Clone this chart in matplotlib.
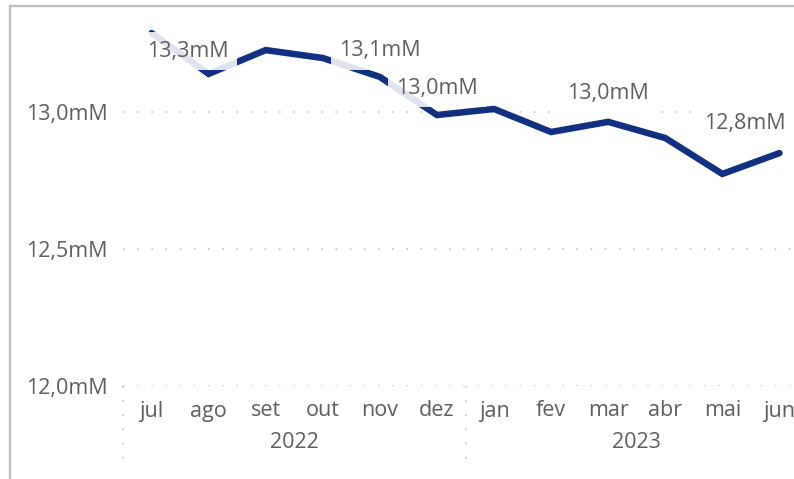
import matplotlib.pyplot as plt
from matplotlib.lines import Line2D
from matplotlib import transforms

plt.rcParams['font.family'] = ['Open Sans', 'DejaVu Sans']

months = ['jul', 'ago', 'set', 'out', 'nov', 'dez', 'jan', 'fev', 'mar', 'abr', 'mai', 'jun']
years = ['2022', '2023']
values = [13.288, 13.139, 13.226, 13.197, 13.128, 12.989, 13.011, 12.927, 12.964, 12.905, 12.774, 12.850]
labeled = [0, 4, 5, 8, 10]
yticks = [12.0, 12.5, 13.0]

# label offsets (pixels, x right / y up)
label_off = {0: (36, -18), 4: (0, 26), 5: (0, 27), 8: (0, 28), 10: (22, 50)}

line_color = '#12307f'
text_color = '#605e5c'
grid_color = '#c4c4c4'
fs = 15.5

W, H = 794, 479
fig = plt.figure(figsize=(W / 100, H / 100), dpi=100)
# axes: x from 123 to 808 px, y from 386 (12.0) to 20 px
ax = fig.add_axes([123 / W, (H - 386) / H, (808 - 123) / W, (386 - 20) / H])
ax.set_xlim(-0.5, 11.5)
ax.set_ylim(12.0, 13.0 + 92 / 274)
for s in ax.spines.values():
    s.set_visible(False)
ax.tick_params(length=0)
ax.set_xticks([])
ax.set_yticks(yticks)
ax.set_yticklabels([f'{v:.1f}'.replace('.', ',') + 'mM' for v in yticks],
                   fontsize=fs, color=text_color)
ax.tick_params(axis='y', pad=11)
for v in yticks:
    ax.axhline(v, color=grid_color, lw=1.2, ls=(0, (1, 7.5)), zorder=1, xmax=0.975)

x = list(range(len(months)))
ax.plot(x, values, color=line_color, lw=4.7, solid_capstyle='round',
        solid_joinstyle='miter', zorder=3)

for i in labeled:
    dx, dy = label_off[i]
    ax.annotate(f'{values[i]:.1f}'.replace('.', ',') + 'mM', (x[i], values[i]),
                xytext=(dx * 0.72, dy * 0.72), textcoords='offset points',
                ha='center', va='center', fontsize=fs, color=text_color, zorder=5,
                bbox=dict(boxstyle='square,pad=0.38', fc='white', ec='none', alpha=0.87))

# x category labels
trans = transforms.blended_transform_factory(ax.transData, ax.transAxes)
px = 1 / (386 - 20)
for i, m in enumerate(months):
    ax.text(i, -25 * px, m, ha='center', va='center', fontsize=fs,
            color=text_color, transform=trans, clip_on=False)
for j, yr in enumerate(years):
    ax.text(j * 6 + 2.5, -57 * px, yr, ha='center', va='center', fontsize=fs,
            color=text_color, transform=trans, clip_on=False)
for xs in [-0.5, 5.5]:
    ax.plot([xs, xs], [0, -80 * px], color=grid_color, lw=1.2, ls=(0, (1, 7.5)),
            transform=trans, clip_on=False)

# outer frame (left and top)
fig.add_artist(Line2D([10 / W, 10 / W], [0, 1 - 6 / H], color='#bdbdbd', lw=1.6))
fig.add_artist(Line2D([10 / W, 1], [1 - 6 / H, 1 - 6 / H], color='#bdbdbd', lw=1.6))

fig.savefig('out.png', dpi=100)
